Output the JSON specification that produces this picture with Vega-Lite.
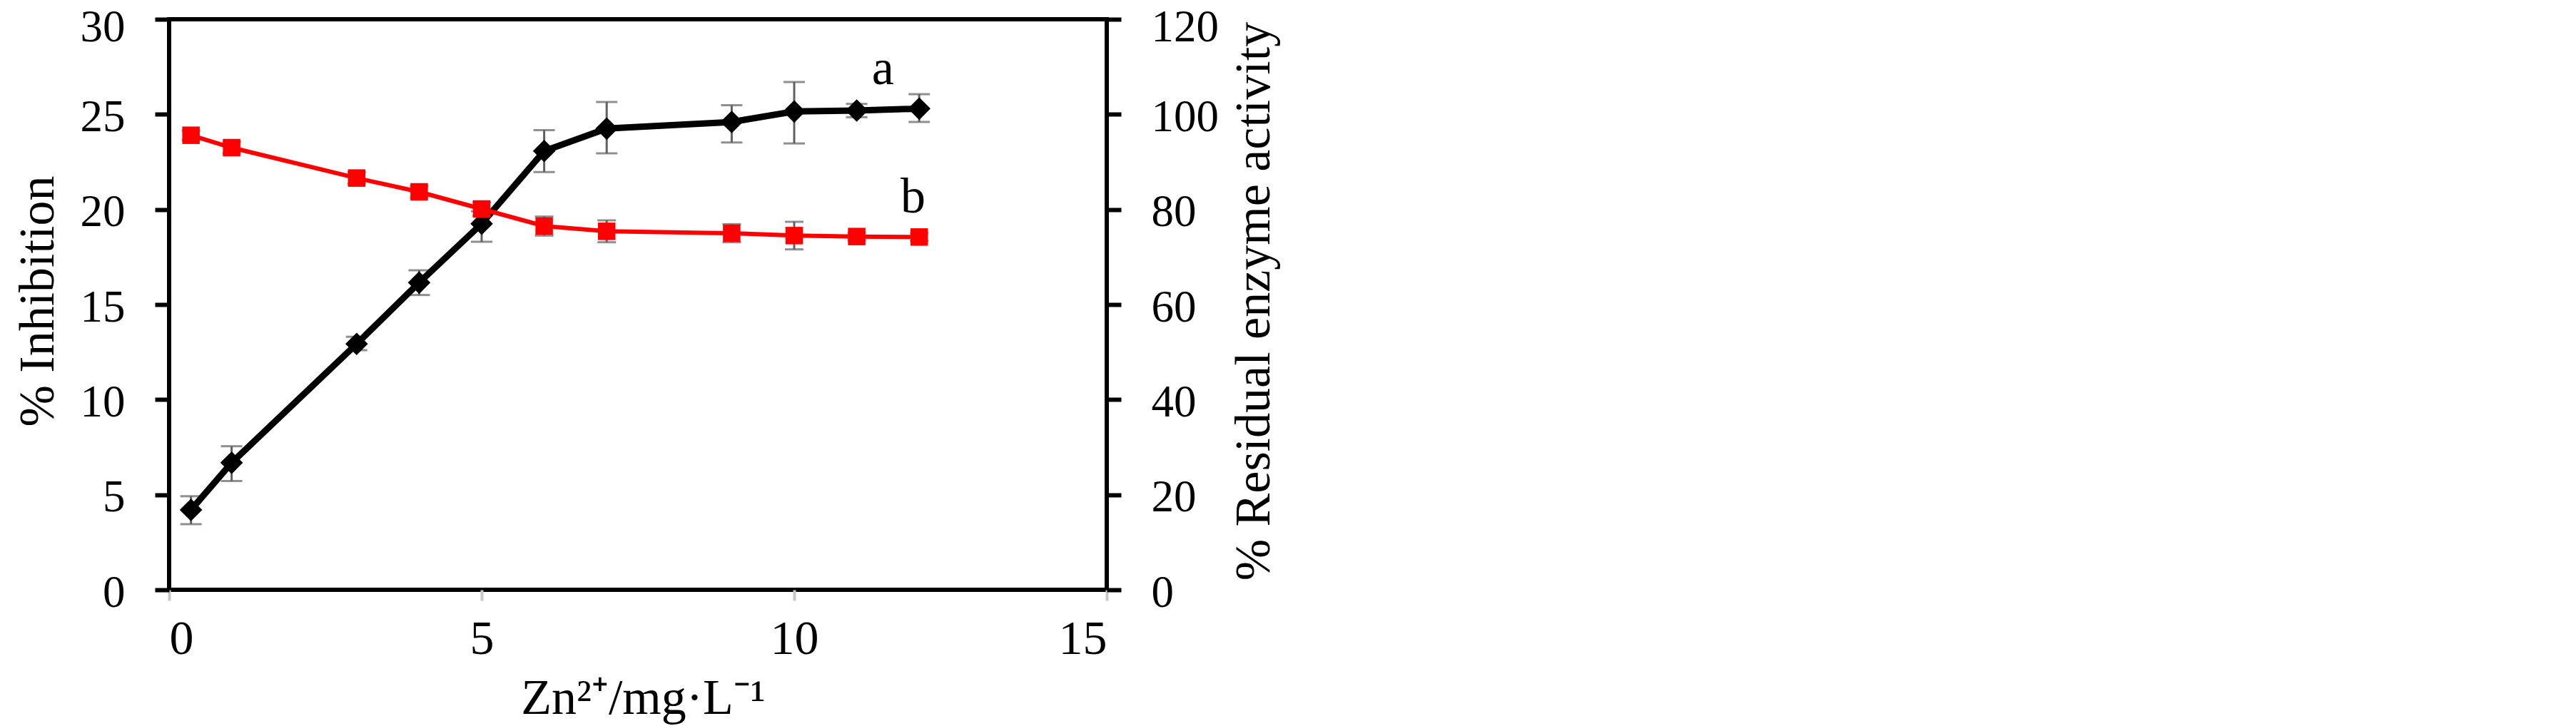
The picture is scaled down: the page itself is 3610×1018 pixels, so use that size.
{
  "$schema": "https://vega.github.io/schema/vega-lite/v6.json",
  "width": 1314,
  "height": 800,
  "autosize": {"type": "none"},
  "padding": {"left": 237, "top": 27, "right": 2059, "bottom": 191},
  "background": "white",
  "config": {
    "view": {"stroke": "black", "strokeWidth": 6},
    "font": "Liberation Serif",
    "axis": {"grid": false, "domain": false, "labelFont": "Liberation Serif", "titleFont": "Liberation Serif", "labelColor": "black", "titleColor": "black", "titleFontWeight": "normal"}
  },
  "datasets": {
    "a": [
      {"x": 0.35, "val": 4.2, "lo": 3.45, "hi": 4.92},
      {"x": 1, "val": 6.68, "lo": 5.72, "hi": 7.55},
      {"x": 3, "val": 12.93, "lo": 12.6, "hi": 13.3},
      {"x": 4, "val": 16.15, "lo": 15.5, "hi": 16.8},
      {"x": 5, "val": 19.25, "lo": 18.3, "hi": 19.9},
      {"x": 6, "val": 23.07, "lo": 21.97, "hi": 24.17},
      {"x": 7, "val": 24.25, "lo": 22.95, "hi": 25.65},
      {"x": 9, "val": 24.6, "lo": 23.52, "hi": 25.48},
      {"x": 10, "val": 25.15, "lo": 23.47, "hi": 26.7},
      {"x": 11, "val": 25.2, "lo": 24.85, "hi": 25.55},
      {"x": 12, "val": 25.3, "lo": 24.6, "hi": 26.06}
    ],
    "b": [
      {"x": 0.35, "val": 95.6, "lo": 94.6, "hi": 96.6},
      {"x": 1, "val": 93.0, "lo": 91.8, "hi": 94.2},
      {"x": 3, "val": 86.6, "lo": 85.4, "hi": 87.8},
      {"x": 4, "val": 83.7, "lo": 82.5, "hi": 84.9},
      {"x": 5, "val": 80.1, "lo": 78.7, "hi": 81.5},
      {"x": 6, "val": 76.5, "lo": 74.5, "hi": 78.5},
      {"x": 7, "val": 75.4, "lo": 73.1, "hi": 77.7},
      {"x": 9, "val": 75.0, "lo": 73.1, "hi": 76.9},
      {"x": 10, "val": 74.5, "lo": 71.6, "hi": 77.4},
      {"x": 11, "val": 74.3, "lo": 73.5, "hi": 75.1},
      {"x": 12, "val": 74.2, "lo": 73.4, "hi": 75.0}
    ],
    "labels": [
      {"x": 11.42, "val": 26.58, "label": "a"},
      {"x": 11.9, "val": 19.82, "label": "b"}
    ]
  },
  "encoding": {
    "x": {
      "field": "x", "type": "quantitative",
      "scale": {"domain": [0, 15], "nice": false, "zero": false},
      "axis": {
        "orient": "bottom", "values": [0, 5, 10, 15], "tickSize": 15, "tickWidth": 4, "tickColor": "#c8c8c8",
        "labelFontSize": 68, "labelPadding": 20,
        "title": "Zn²⁺/mg·L⁻¹", "titleFontSize": 70, "titleX": 664, "titleY": 173, "titleBaseline": "alphabetic", "titleAlign": "center"
      }
    }
  },
  "layer": [
    {
      "layer": [
        {
          "data": {"name": "a"},
          "mark": {"type": "rule", "color": "#606060", "strokeWidth": 3},
          "encoding": {
            "y": {"field": "lo", "type": "quantitative", "scale": {"domain": [0, 30], "nice": false},
              "axis": {"orient": "left", "title": "% Inhibition", "values": [0, 5, 10, 15, 20, 25, 30], "tickSize": 20, "tickWidth": 6, "tickColor": "black", "labelFontSize": 63, "labelPadding": 42, "labelOffset": {"condition": {"test": "datum.value == 30", "value": 11}, "value": 4}, "titleFontSize": 70, "titleX": -184, "titleY": 395, "titleAngle": 270, "titleBaseline": "middle", "titleAlign": "center"}},
            "y2": {"field": "hi"}
          }
        },
        {
          "data": {"name": "a"},
          "mark": {"type": "tick", "orient": "horizontal", "color": "#606060", "size": 30, "thickness": 3},
          "encoding": {
            "y": {"field": "lo", "type": "quantitative", "scale": {"domain": [0, 30], "nice": false},
              "axis": {"orient": "left", "title": "% Inhibition", "values": [0, 5, 10, 15, 20, 25, 30], "tickSize": 20, "tickWidth": 6, "tickColor": "black", "labelFontSize": 63, "labelPadding": 42, "labelOffset": {"condition": {"test": "datum.value == 30", "value": 11}, "value": 4}, "titleFontSize": 70, "titleX": -184, "titleY": 395, "titleAngle": 270, "titleBaseline": "middle", "titleAlign": "center"}}
          }
        },
        {
          "data": {"name": "a"},
          "mark": {"type": "tick", "orient": "horizontal", "color": "#606060", "size": 30, "thickness": 3},
          "encoding": {
            "y": {"field": "hi", "type": "quantitative", "scale": {"domain": [0, 30], "nice": false},
              "axis": {"orient": "left", "title": "% Inhibition", "values": [0, 5, 10, 15, 20, 25, 30], "tickSize": 20, "tickWidth": 6, "tickColor": "black", "labelFontSize": 63, "labelPadding": 42, "labelOffset": {"condition": {"test": "datum.value == 30", "value": 11}, "value": 4}, "titleFontSize": 70, "titleX": -184, "titleY": 395, "titleAngle": 270, "titleBaseline": "middle", "titleAlign": "center"}}
          }
        },
        {
          "data": {"name": "a"},
          "mark": {"type": "line", "color": "black", "strokeWidth": 9},
          "encoding": {
            "y": {"field": "val", "type": "quantitative", "scale": {"domain": [0, 30], "nice": false},
              "axis": {"orient": "left", "title": "% Inhibition", "values": [0, 5, 10, 15, 20, 25, 30], "tickSize": 20, "tickWidth": 6, "tickColor": "black", "labelFontSize": 63, "labelPadding": 42, "labelOffset": {"condition": {"test": "datum.value == 30", "value": 11}, "value": 4}, "titleFontSize": 70, "titleX": -184, "titleY": 395, "titleAngle": 270, "titleBaseline": "middle", "titleAlign": "center"}}
          }
        },
        {
          "data": {"name": "a"},
          "mark": {"type": "point", "shape": "diamond", "filled": true, "color": "black", "size": 1000, "opacity": 1},
          "encoding": {
            "y": {"field": "val", "type": "quantitative", "scale": {"domain": [0, 30], "nice": false},
              "axis": {"orient": "left", "title": "% Inhibition", "values": [0, 5, 10, 15, 20, 25, 30], "tickSize": 20, "tickWidth": 6, "tickColor": "black", "labelFontSize": 63, "labelPadding": 42, "labelOffset": {"condition": {"test": "datum.value == 30", "value": 11}, "value": 4}, "titleFontSize": 70, "titleX": -184, "titleY": 395, "titleAngle": 270, "titleBaseline": "middle", "titleAlign": "center"}}
          }
        },
        {
          "data": {"name": "labels"},
          "mark": {"type": "text", "fontSize": 70, "font": "Liberation Serif", "color": "black", "align": "center", "baseline": "alphabetic"},
          "encoding": {
            "y": {"field": "val", "type": "quantitative", "scale": {"domain": [0, 30], "nice": false},
              "axis": {"orient": "left", "title": "% Inhibition", "values": [0, 5, 10, 15, 20, 25, 30], "tickSize": 20, "tickWidth": 6, "tickColor": "black", "labelFontSize": 63, "labelPadding": 42, "labelOffset": {"condition": {"test": "datum.value == 30", "value": 11}, "value": 4}, "titleFontSize": 70, "titleX": -184, "titleY": 395, "titleAngle": 270, "titleBaseline": "middle", "titleAlign": "center"}},
            "text": {"field": "label"}
          }
        }
      ]
    },
    {
      "data": {"name": "b"},
      "layer": [
        {
          "mark": {"type": "rule", "color": "#606060", "strokeWidth": 3},
          "encoding": {
            "y": {"field": "lo", "type": "quantitative", "scale": {"domain": [0, 120], "nice": false},
              "axis": {"orient": "right", "title": "% Residual enzyme activity", "values": [0, 20, 40, 60, 80, 100, 120], "tickSize": 20, "tickWidth": 6, "tickColor": "black", "labelFontSize": 63, "labelPadding": 42, "labelOffset": {"condition": {"test": "datum.value == 120", "value": 11}, "value": 4}, "titleFontSize": 70, "titleX": 206, "titleY": 395, "titleAngle": 270, "titleBaseline": "middle", "titleAlign": "center"}},
            "y2": {"field": "hi"}
          }
        },
        {
          "mark": {"type": "tick", "orient": "horizontal", "color": "#606060", "size": 26, "thickness": 3},
          "encoding": {
            "y": {"field": "lo", "type": "quantitative", "scale": {"domain": [0, 120], "nice": false},
              "axis": {"orient": "right", "title": "% Residual enzyme activity", "values": [0, 20, 40, 60, 80, 100, 120], "tickSize": 20, "tickWidth": 6, "tickColor": "black", "labelFontSize": 63, "labelPadding": 42, "labelOffset": {"condition": {"test": "datum.value == 120", "value": 11}, "value": 4}, "titleFontSize": 70, "titleX": 206, "titleY": 395, "titleAngle": 270, "titleBaseline": "middle", "titleAlign": "center"}}
          }
        },
        {
          "mark": {"type": "tick", "orient": "horizontal", "color": "#606060", "size": 26, "thickness": 3},
          "encoding": {
            "y": {"field": "hi", "type": "quantitative", "scale": {"domain": [0, 120], "nice": false},
              "axis": {"orient": "right", "title": "% Residual enzyme activity", "values": [0, 20, 40, 60, 80, 100, 120], "tickSize": 20, "tickWidth": 6, "tickColor": "black", "labelFontSize": 63, "labelPadding": 42, "labelOffset": {"condition": {"test": "datum.value == 120", "value": 11}, "value": 4}, "titleFontSize": 70, "titleX": 206, "titleY": 395, "titleAngle": 270, "titleBaseline": "middle", "titleAlign": "center"}}
          }
        },
        {
          "mark": {"type": "line", "color": "#ff0000", "strokeWidth": 6},
          "encoding": {
            "y": {"field": "val", "type": "quantitative", "scale": {"domain": [0, 120], "nice": false},
              "axis": {"orient": "right", "title": "% Residual enzyme activity", "values": [0, 20, 40, 60, 80, 100, 120], "tickSize": 20, "tickWidth": 6, "tickColor": "black", "labelFontSize": 63, "labelPadding": 42, "labelOffset": {"condition": {"test": "datum.value == 120", "value": 11}, "value": 4}, "titleFontSize": 70, "titleX": 206, "titleY": 395, "titleAngle": 270, "titleBaseline": "middle", "titleAlign": "center"}}
          }
        },
        {
          "mark": {"type": "point", "shape": "square", "filled": true, "color": "#ff0000", "size": 600, "opacity": 1},
          "encoding": {
            "y": {"field": "val", "type": "quantitative", "scale": {"domain": [0, 120], "nice": false},
              "axis": {"orient": "right", "title": "% Residual enzyme activity", "values": [0, 20, 40, 60, 80, 100, 120], "tickSize": 20, "tickWidth": 6, "tickColor": "black", "labelFontSize": 63, "labelPadding": 42, "labelOffset": {"condition": {"test": "datum.value == 120", "value": 11}, "value": 4}, "titleFontSize": 70, "titleX": 206, "titleY": 395, "titleAngle": 270, "titleBaseline": "middle", "titleAlign": "center"}}
          }
        }
      ]
    }
  ],
  "resolve": {"scale": {"y": "independent"}, "axis": {"y": "independent"}}
}
